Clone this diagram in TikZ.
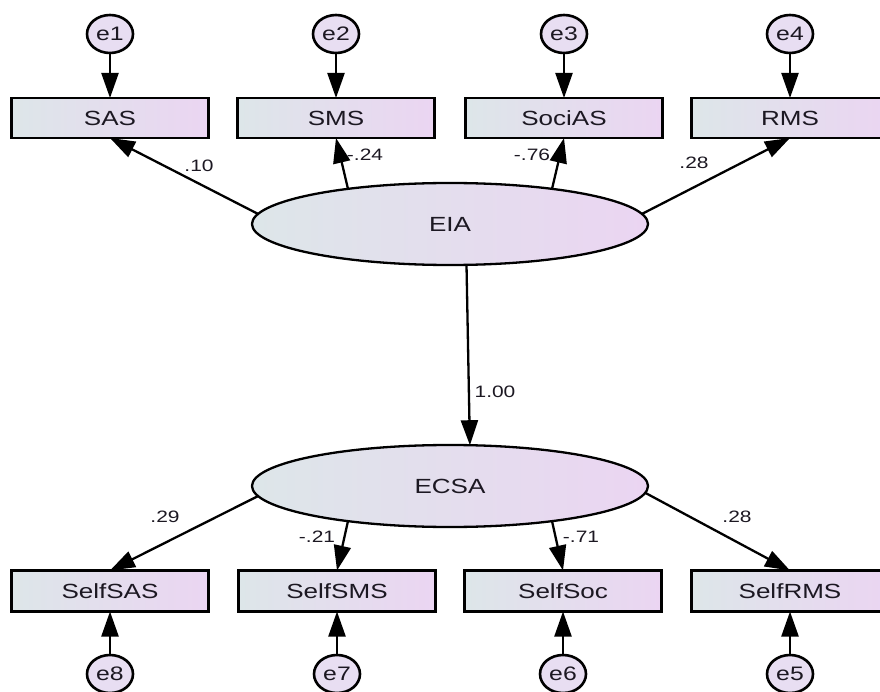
\documentclass[tikz,border=0pt]{standalone}
\usepackage{fontspec}
\setmainfont{Liberation Sans}[FakeStretch=1.27]
\usetikzlibrary{arrows.meta,shapes.geometric}
\definecolor{boxleft}{RGB}{221,230,233}
\definecolor{boxright}{RGB}{235,213,242}
\definecolor{errfill}{RGB}{232,222,242}
\definecolor{inktext}{RGB}{28,24,34}
\begin{document}
\begin{tikzpicture}
	[x=1pt, y=-1pt, line width=2.3pt, >={Triangle[length=25pt,width=17pt]},
	every node/.style={inner sep=0, outer sep=0, text=inktext},
	obs/.style={draw, rectangle, minimum width=197pt, minimum height=40pt, left color=boxleft, right color=boxright, font=\fontsize{20.5}{24}\selectfont},
	latent/.style={draw, ellipse, minimum width=396pt, minimum height=82pt, left color=boxleft, right color=boxright, font=\fontsize{20.5}{24}\selectfont},
	err/.style={draw, ellipse, minimum width=46pt, minimum height=38pt, fill=errfill, line width=2.6pt, font=\fontsize{19.5}{22}\selectfont},
	coef/.style={font=\fontsize{16.5}{18}\selectfont}]
	\useasboundingbox (0, 0) rectangle (880, 692);
	\node (e1) [err] at (110, 34) {e1};
	\node (e2) [err] at (336, 34) {e2};
	\node (e3) [err] at (564, 34) {e3};
	\node (e4) [err] at (790, 34) {e4};
	\node (SAS) [obs] at (110, 118) {SAS};
	\node (SMS) [obs] at (336, 118) {SMS};
	\node (SociAS) [obs] at (564, 118) {SociAS};
	\node (RMS) [obs] at (790, 118) {RMS};
	\node (EIA) [latent] at (450, 224) {EIA};
	\node (ECSA) [latent] at (450, 486) {ECSA};
	\node (SelfSAS) [obs, minimum height=41pt] at (110, 591) {SelfSAS};
	\node (SelfSMS) [obs, minimum height=41pt] at (337, 591) {SelfSMS};
	\node (SelfSoc) [obs, minimum height=41pt] at (563, 591) {SelfSoc};
	\node (SelfRMS) [obs, minimum height=41pt] at (790, 591) {SelfRMS};
	\node (e8) [err] at (110, 674) {e8};
	\node (e7) [err] at (337, 674) {e7};
	\node (e6) [err] at (563, 674) {e6};
	\node (e5) [err] at (790, 674) {e5};
	\draw [->] (e1) -- (SAS);
	\draw [->] (e2) -- (SMS);
	\draw [->] (e3) -- (SociAS);
	\draw [->] (e4) -- (RMS);
	\draw [->] (EIA.177) -- (SAS.south);
	\draw [->] (EIA.161) -- (SMS.south);
	\draw [->] (EIA.19) -- (SociAS.south);
	\draw [->] (EIA.3) -- (RMS.south);
	\draw [->] (EIA.-68) -- (ECSA.64);
	\draw [->] (ECSA.183) -- (SelfSAS.north);
	\draw [->] (ECSA.-161) -- (SelfSMS.north);
	\draw [->] (ECSA.-19) -- (SelfSoc.north);
	\draw [->] (ECSA.-2) -- (SelfRMS.north);
	\draw [->] (e8) -- (SelfSAS);
	\draw [->] (e7) -- (SelfSMS);
	\draw [->] (e6) -- (SelfSoc);
	\draw [->] (e5) -- (SelfRMS);
	\node (wSAS) [coef] at (199, 166) {.10};
	\node (wSMS) [coef] at (365, 155) {-.24};
	\node (wSociAS) [coef] at (532, 155) {-.76};
	\node (wRMS) [coef] at (694, 163) {.28};
	\node (wECSA) [coef] at (495, 392) {1.00};
	\node (wSelfSAS) [coef] at (165, 517) {.29};
	\node (wSelfSMS) [coef] at (317, 537) {-.21};
	\node (wSelfSoc) [coef] at (581, 537) {-.71};
	\node (wSelfRMS) [coef] at (737, 517) {.28};
\end{tikzpicture}
\end{document}
